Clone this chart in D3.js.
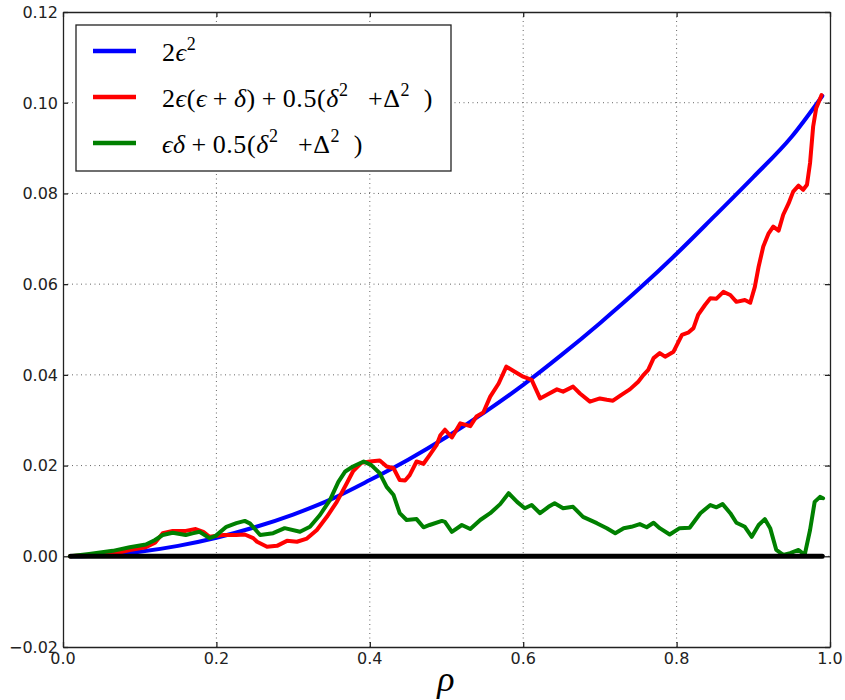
<!DOCTYPE html>
<html lang="en">
<head>
  <meta charset="UTF-8">
  <script src="https://cdn.jsdelivr.net/npm/d3@7"></script>
  <title>Error terms vs rho</title>
  <style>
    body { margin: 0; background: white; }
    .tick-label { font-family: "DejaVu Sans", sans-serif; font-size: 16px; fill: #222; }
    .grid { stroke: #666; stroke-width: 1; stroke-dasharray: 1, 3.5; }
    .series { fill: none; stroke-linejoin: round; stroke-linecap: round; }
    .legend text { font-family: "Liberation Serif", "DejaVu Serif", serif; font-size: 26px; fill: #000; }
  </style>
</head>
<body>
<script>
  // ---- data ----
  const xTicks = [0.0, 0.2, 0.4, 0.6, 0.8, 1.0];
  const yTicks = [-0.02, 0.00, 0.02, 0.04, 0.06, 0.08, 0.10, 0.12];

  const blueRho = [0.01, 0.05, 0.1, 0.15, 0.2, 0.25, 0.3, 0.35, 0.4, 0.45, 0.5, 0.55, 0.6, 0.65, 0.7, 0.75, 0.8, 0.85, 0.9, 0.95, 0.99];
  const blueVal = [0.0000, 0.0002, 0.0010, 0.0023, 0.0041, 0.0064, 0.0092, 0.0126, 0.0168, 0.0213, 0.0263, 0.0318, 0.0378, 0.0444, 0.0514, 0.0588, 0.0667, 0.0751, 0.0836, 0.0925, 0.1015];

  const redRho = [0.009, 0.034, 0.065, 0.087, 0.108, 0.120, 0.130, 0.143, 0.160, 0.173, 0.183, 0.191, 0.209, 0.226, 0.237, 0.248, 0.253, 0.266, 0.279, 0.292, 0.305, 0.318, 0.331, 0.344, 0.357, 0.370, 0.378, 0.389, 0.400, 0.413, 0.422, 0.431, 0.439, 0.446, 0.452, 0.461, 0.470, 0.478, 0.487, 0.492, 0.498, 0.507, 0.518, 0.531, 0.539, 0.548, 0.557, 0.568, 0.578, 0.589, 0.600, 0.611, 0.622, 0.631, 0.644, 0.652, 0.665, 0.674, 0.687, 0.700, 0.709, 0.717, 0.728, 0.739, 0.750, 0.757, 0.763, 0.770, 0.778, 0.785, 0.796, 0.807, 0.815, 0.822, 0.828, 0.837, 0.844, 0.852, 0.861, 0.870, 0.878, 0.889, 0.896, 0.902, 0.907, 0.913, 0.920, 0.926, 0.933, 0.939, 0.946, 0.952, 0.959, 0.965, 0.970, 0.974, 0.978, 0.982, 0.989];
  const redVal = [0.0000, 0.0003, 0.0005, 0.0014, 0.0020, 0.0030, 0.0051, 0.0056, 0.0056, 0.0060, 0.0054, 0.0043, 0.0047, 0.0047, 0.0048, 0.0040, 0.0032, 0.0021, 0.0023, 0.0034, 0.0032, 0.0039, 0.0058, 0.0087, 0.0120, 0.0161, 0.0187, 0.0206, 0.0209, 0.0211, 0.0198, 0.0194, 0.0168, 0.0167, 0.0179, 0.0209, 0.0204, 0.0223, 0.0245, 0.0267, 0.0279, 0.0262, 0.0293, 0.0287, 0.0308, 0.0317, 0.0352, 0.0381, 0.0418, 0.0407, 0.0396, 0.0389, 0.0348, 0.0356, 0.0368, 0.0363, 0.0374, 0.0359, 0.0341, 0.0348, 0.0345, 0.0343, 0.0356, 0.0368, 0.0385, 0.0400, 0.0411, 0.0437, 0.0448, 0.0440, 0.0451, 0.0488, 0.0493, 0.0503, 0.0532, 0.0554, 0.0569, 0.0568, 0.0583, 0.0576, 0.0561, 0.0565, 0.0559, 0.0594, 0.0639, 0.0683, 0.0712, 0.0727, 0.0718, 0.0753, 0.0778, 0.0804, 0.0817, 0.0808, 0.0819, 0.0867, 0.0947, 0.0988, 0.1017];

  const greenRho = [0.009, 0.034, 0.065, 0.087, 0.108, 0.120, 0.130, 0.143, 0.160, 0.170, 0.178, 0.191, 0.199, 0.213, 0.226, 0.237, 0.244, 0.257, 0.274, 0.289, 0.309, 0.322, 0.335, 0.348, 0.359, 0.368, 0.378, 0.392, 0.402, 0.413, 0.422, 0.431, 0.439, 0.448, 0.461, 0.470, 0.478, 0.494, 0.498, 0.507, 0.520, 0.531, 0.544, 0.557, 0.570, 0.581, 0.592, 0.602, 0.611, 0.622, 0.633, 0.641, 0.652, 0.665, 0.678, 0.696, 0.709, 0.720, 0.731, 0.741, 0.752, 0.761, 0.770, 0.778, 0.791, 0.804, 0.817, 0.831, 0.844, 0.852, 0.860, 0.870, 0.878, 0.889, 0.898, 0.907, 0.915, 0.922, 0.930, 0.939, 0.948, 0.959, 0.967, 0.974, 0.980, 0.987, 0.991];
  const greenVal = [0.0000, 0.0005, 0.0012, 0.0020, 0.0026, 0.0036, 0.0047, 0.0052, 0.0047, 0.0051, 0.0054, 0.0040, 0.0045, 0.0065, 0.0073, 0.0078, 0.0072, 0.0047, 0.0051, 0.0062, 0.0054, 0.0065, 0.0091, 0.0124, 0.0164, 0.0187, 0.0198, 0.0209, 0.0201, 0.0183, 0.0153, 0.0135, 0.0095, 0.0080, 0.0082, 0.0064, 0.0069, 0.0078, 0.0076, 0.0054, 0.0069, 0.0060, 0.0080, 0.0095, 0.0115, 0.0139, 0.0120, 0.0106, 0.0113, 0.0095, 0.0109, 0.0117, 0.0106, 0.0109, 0.0087, 0.0073, 0.0062, 0.0051, 0.0062, 0.0065, 0.0071, 0.0064, 0.0074, 0.0062, 0.0048, 0.0062, 0.0063, 0.0095, 0.0113, 0.0108, 0.0115, 0.0095, 0.0074, 0.0065, 0.0043, 0.0069, 0.0082, 0.0062, 0.0014, 0.0003, 0.0007, 0.0014, 0.0003, 0.0058, 0.0120, 0.0131, 0.0128];

  const zeroRho = [0.01, 0.99];
  const zeroVal = [0, 0];

  // ---- layout ----
  const W = 845, H = 700;
  const mLeft = 63, mRight = 830, mTop = 12, mBottom = 647;

  const svg = d3.select('body').append('svg')
    .attr('width', W)
    .attr('height', H);

  const x = d3.scaleLinear().domain([0, 1]).range([mLeft, mRight]);
  const y = d3.scaleLinear().domain([-0.02, 0.12]).range([mBottom, mTop]);

  // grid
  svg.append('g').selectAll('line.gx').data(xTicks.slice(1, -1)).enter()
    .append('line').attr('class', 'grid')
    .attr('x1', d => x(d)).attr('x2', d => x(d))
    .attr('y1', mTop).attr('y2', mBottom);
  svg.append('g').selectAll('line.gy').data(yTicks.slice(1, -1)).enter()
    .append('line').attr('class', 'grid')
    .attr('x1', mLeft).attr('x2', mRight)
    .attr('y1', d => y(d)).attr('y2', d => y(d));

  // series
  const line = d3.line().x(d => x(d[0])).y(d => y(d[1]));
  const series = [
    { rho: zeroRho, val: zeroVal, color: '#000000', width: 5, curve: d3.curveLinear },
    { rho: blueRho, val: blueVal, color: '#0000ff', width: 4, curve: d3.curveMonotoneX },
    { rho: redRho, val: redVal, color: '#ff0000', width: 4, curve: d3.curveLinear },
    { rho: greenRho, val: greenVal, color: '#008000', width: 4, curve: d3.curveLinear }
  ];
  // draw order: blue, red, green, then black baseline on top
  [1, 2, 3, 0].forEach(i => {
    const s = series[i];
    svg.append('path').attr('class', 'series')
      .attr('d', line.curve(s.curve)(d3.zip(s.rho, s.val)))
      .attr('stroke', s.color)
      .attr('stroke-width', s.width)
      .attr('stroke-linecap', i === 0 ? 'butt' : 'round');
  });

  // axes frame with inward ticks on all sides
  const tickLen = 5;
  const axisColor = '#222';
  const xAxisB = d3.axisBottom(x).tickValues(xTicks).tickSizeInner(-tickLen).tickSizeOuter(0).tickFormat('');
  const xAxisT = d3.axisTop(x).tickValues(xTicks).tickSizeInner(-tickLen).tickSizeOuter(0).tickFormat('');
  const yAxisL = d3.axisLeft(y).tickValues(yTicks).tickSizeInner(-tickLen).tickSizeOuter(0).tickFormat('');
  const yAxisR = d3.axisRight(y).tickValues(yTicks).tickSizeInner(-tickLen).tickSizeOuter(0).tickFormat('');
  [[xAxisB, `translate(0,${mBottom})`], [xAxisT, `translate(0,${mTop})`],
   [yAxisL, `translate(${mLeft},0)`], [yAxisR, `translate(${mRight},0)`]].forEach(([ax, tr]) => {
    const g = svg.append('g').attr('transform', tr).call(ax);
    g.selectAll('line, path').attr('stroke', axisColor).attr('stroke-width', 1.3);
  });

  // tick labels
  svg.append('g').selectAll('text').data(xTicks).enter()
    .append('text').attr('class', 'tick-label')
    .attr('x', d => x(d)).attr('y', mBottom + 17)
    .attr('text-anchor', 'middle')
    .text(d => d3.format('.1f')(d));
  svg.append('g').selectAll('text').data(yTicks).enter()
    .append('text').attr('class', 'tick-label')
    .attr('x', mLeft - 5).attr('y', d => y(d) + 5.8)
    .attr('text-anchor', 'end')
    .text(d => d3.format('.2f')(d).replace('-', '\u2212'));

  // axis label
  svg.append('text')
    .attr('x', 446).attr('y', 691)
    .attr('text-anchor', 'middle')
    .style('font-family', '"Liberation Serif", "DejaVu Serif", serif')
    .style('font-style', 'italic')
    .style('font-size', '36px')
    .text('\u03c1');

  // legend
  const eps = '\u03f5';
  const legendItems = [
    { color: '#0000ff', parts: [['2', 'n'], [eps, 'i'], ['2', 's']] },
    { color: '#ff0000', parts: [['2', 'n'], [eps, 'i'], ['(', 'n'], [eps, 'i'], ['\u2009+\u2009', 'n'], ['\u03b4', 'i'], [')\u2009+\u20090.5(', 'n'], ['\u03b4', 'i'], ['2', 's'], ['\u2002\u2009+\u0394', 'n'], ['2', 's'], ['\u2002)', 'n']] },
    { color: '#008000', parts: [[eps, 'i'], ['\u03b4', 'i'], ['\u2009+\u20090.5(', 'n'], ['\u03b4', 'i'], ['2', 's'], ['\u2002\u2009+\u0394', 'n'], ['2', 's'], ['\u2002)', 'n']] }
  ];
  const leg = svg.append('g').attr('class', 'legend');
  leg.append('rect')
    .attr('x', 76).attr('y', 25).attr('width', 375).attr('height', 146)
    .attr('fill', 'white').attr('stroke', '#222').attr('stroke-width', 1.3);
  const rowY = [51, 97, 143];
  legendItems.forEach((it, i) => {
    leg.append('line')
      .attr('x1', 93).attr('x2', 136)
      .attr('y1', rowY[i]).attr('y2', rowY[i])
      .attr('stroke', it.color).attr('stroke-width', 4.5);
    const t = leg.append('text').attr('x', 162).attr('y', rowY[i] + 10)
      .style('letter-spacing', '0.6px');
    let raised = false;
    it.parts.forEach(([s, k]) => {
      const ts = t.append('tspan').text(s);
      if (k === 'i') ts.style('font-style', 'italic');
      if (k === 's') {
        ts.attr('dy', -11).style('font-size', '18px');
        raised = true;
      } else if (raised) {
        ts.attr('dy', 11);
        raised = false;
      }
    });
  });
</script>
</body>
</html>
